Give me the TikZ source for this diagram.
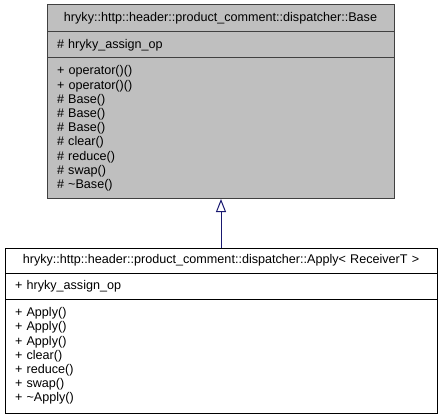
\documentclass[tikz,border=0pt]{standalone}
\usepackage{fontspec}
\setmainfont{Liberation Sans}
\usetikzlibrary{arrows.meta,positioning}

\definecolor{basegray}{HTML}{BFBFBF}
\definecolor{baseedge}{HTML}{404040}
\definecolor{edgeblue}{HTML}{191970}

\tikzset{
  compartment/.style={draw=black, line width=1pt, outer sep=0pt, inner xsep=10pt, inner ysep=0pt,
    align=left, font=\fontsize{12.6}{14.2}\selectfont},
  basepart/.style={compartment, draw=baseedge, fill=basegray, text width=327pt},
  applypart/.style={compartment, fill=white, text width=412pt},
  inherit/.style={draw=edgeblue, line width=1pt, -{Triangle[open, width=10pt, length=13pt]}},
}

\begin{document}
\begin{tikzpicture}[x=1pt, y=-1pt]

\useasboundingbox (0,0) rectangle (443,419);

% Base class (grey)
\node[basepart, anchor=north, align=center, minimum height=27pt]
  (base-title) at (220.5,5) {hryky::http::header::product\_comment::dispatcher::Base};
\node[basepart, below=0pt of base-title, minimum height=26pt]
  (base-attrs) {\# hryky\_assign\_op};
\node[basepart, below=0pt of base-attrs, minimum height=141pt]
  (base-methods) {+ operator()()\\
                  + operator()()\\
                  \# Base()\\
                  \# Base()\\
                  \# Base()\\
                  \# clear()\\
                  \# reduce()\\
                  \# swap()\\
                  \# \textasciitilde Base()};

% Derived class
\node[applypart, anchor=north, align=center, minimum height=25pt]
  (apply-title) at (221,248) {hryky::http::header::product\_comment::dispatcher::Apply< ReceiverT >};
\node[applypart, below=0pt of apply-title, minimum height=26pt]
  (apply-attrs) {+ hryky\_assign\_op};
\node[applypart, below=0pt of apply-attrs, minimum height=114pt]
  (apply-methods) {+ Apply()\\
                   + Apply()\\
                   + Apply()\\
                   + clear()\\
                   + reduce()\\
                   + swap()\\
                   + \textasciitilde Apply()};

% Inheritance
\draw[inherit] (apply-title.north) -- (apply-title.north |- base-methods.south);

\end{tikzpicture}
\end{document}
